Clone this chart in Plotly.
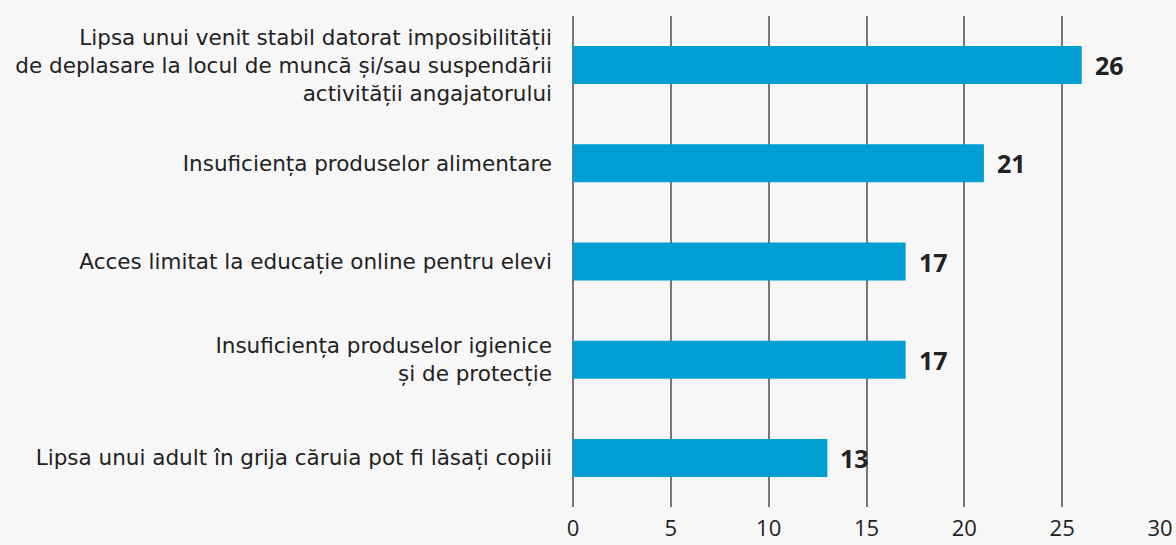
import plotly.graph_objects as go

categories = [
    "Lipsa unui venit stabil datorat imposibilității<br>de deplasare la locul de muncă și/sau suspendării<br>activității angajatorului",
    "Insuficiența produselor alimentare",
    "Acces limitat la educație online pentru elevi",
    "Insuficiența produselor igienice<br>și de protecție",
    "Lipsa unui adult în grija căruia pot fi lăsați copiii",
]
values = [26, 21, 17, 17, 13]
x_ticks = [0, 5, 10, 15, 20, 25, 30]

BG = "#f7f7f7"
FONT = "DejaVu Sans"
TXT = "#222222"

fig = go.Figure(
    go.Bar(
        x=values,
        y=categories,
        orientation="h",
        marker=dict(color="#009fd3", line=dict(width=0)),
        width=0.387,
        hoverinfo="skip",
    )
)

for c, v in zip(categories, values):
    fig.add_annotation(
        x=v, y=c, text=f"<b>{v}</b>", showarrow=False,
        xanchor="left", yanchor="middle", xshift=11,
        font=dict(family="Open Sans", size=25, color=TXT),
    )

fig.update_layout(
    width=1176,
    height=545,
    margin=dict(l=573, r=16, t=16, b=38),
    paper_bgcolor=BG,
    plot_bgcolor=BG,
    showlegend=False,
    font=dict(family=FONT, size=21.5, color=TXT),
)
fig.update_xaxes(
    range=[0, 30],
    tickvals=x_ticks,
    showgrid=True,
    gridcolor="#777777",
    gridwidth=1.5,
    zeroline=True,
    zerolinecolor="#777777",
    zerolinewidth=1.5,
    showline=False,
    automargin=False,
    ticklabelstandoff=6,
    tickfont=dict(family="Open Sans", size=22, color=TXT),
    fixedrange=True,
)
fig.update_yaxes(
    autorange="reversed",
    showgrid=False,
    zeroline=False,
    showline=False,
    automargin=False,
    ticklabelstandoff=20,
    tickfont=dict(size=21.5, color=TXT),
    fixedrange=True,
)

fig.write_html(
    "out.html",
    config={"displayModeBar": False},
    post_script="document.body.style.margin='0';document.body.style.background='#f7f7f7';",
)
